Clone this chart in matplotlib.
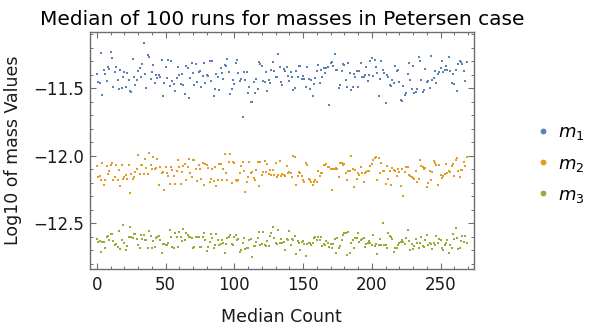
import numpy as np
import matplotlib

matplotlib.use("Agg")
import matplotlib.pyplot as plt  # noqa: E402
from matplotlib.lines import Line2D  # noqa: E402
from matplotlib.ticker import MultipleLocator  # noqa: E402

# medians, one value per median count (0..269)
m1 = [
    -11.391, -11.451, -11.458, -11.236, -11.547, -11.364, -11.391, -11.443, -11.342, -11.357,
    -11.231, -11.275, -11.493, -11.379, -11.342, -11.436, -11.502, -11.364, -11.495, -11.414,
    -11.379, -11.490, -11.386, -11.438, -11.517, -11.525, -11.283, -11.414, -11.475, -11.438,
    -11.372, -11.349, -11.414, -11.320, -11.164, -11.391, -11.495, -11.253, -11.265, -11.428,
    -11.379, -11.327, -11.458, -11.399, -11.421, -11.399, -11.414, -11.290, -11.559, -11.463,
    -11.342, -11.421, -11.290, -11.480, -11.295, -11.443, -11.465, -11.517, -11.421, -11.342,
    -11.399, -11.465, -11.391, -11.473, -11.540, -11.335, -11.347, -11.572, -11.421, -11.312,
    -11.384, -11.473, -11.320, -11.451, -11.379, -11.372, -11.488, -11.406, -11.310, -11.458,
    -11.401, -11.409, -11.295, -11.443, -11.295, -11.559, -11.502, -11.391, -11.414, -11.510,
    -11.347, -11.386, -11.428, -11.325, -11.332, -11.283, -11.377, -11.540, -11.502, -11.436,
    -11.465, -11.312, -11.290, -11.384, -11.443, -11.428, -11.710, -11.377, -11.436, -11.377,
    -11.532, -11.488, -11.599, -11.599, -11.451, -11.532, -11.431, -11.502, -11.302, -11.320,
    -11.332, -11.446, -11.456, -11.377, -11.517, -11.438, -11.463, -11.364, -11.302, -11.372,
    -11.414, -11.414, -11.246, -11.342, -11.451,
    -11.473, -11.354, -11.369, -11.340, -11.406, -11.443, -11.379, -11.414, -11.512, -11.495,
    -11.372, -11.414, -11.332, -11.332, -11.428, -11.409, -11.428, -11.493, -11.342, -11.428,
    -11.502, -11.436, -11.554, -11.468, -11.421, -11.369, -11.325, -11.458, -11.362, -11.414,
    -11.347, -11.384, -11.347, -11.340, -11.623, -11.310, -11.302, -11.332, -11.246, -11.362,
    -11.362, -11.495, -11.473, -11.369, -11.317, -11.325, -11.438, -11.488, -11.312, -11.384,
    -11.510, -11.488, -11.391, -11.414, -11.369, -11.488, -11.369, -11.312, -11.414, -11.414,
    -11.399, -11.342, -11.443, -11.399, -11.295, -11.275, -11.406, -11.288, -11.342, -11.384,
    -11.557, -11.428, -11.295, -11.362, -11.384, -11.606, -11.399, -11.416, -11.473, -11.480,
    -11.436, -11.458, -11.332, -11.369, -11.364, -11.451, -11.586, -11.594, -11.480, -11.547,
    -11.537, -11.391, -11.310, -11.438, -11.507, -11.332, -11.532, -11.525, -11.502, -11.265,
    -11.295, -11.438, -11.525, -11.512, -11.354, -11.451, -11.446, -11.495, -11.258, -11.438,
    -11.421, -11.369, -11.458, -11.391, -11.377, -11.349, -11.295, -11.377, -11.364, -11.332,
    -11.362, -11.265, -11.369, -11.458, -11.391, -11.470, -11.362, -11.517, -11.317, -11.295,
    -11.302, -11.317, -11.369, -11.443, -11.305,
]

m2 = [
    -12.079, -12.160, -12.148, -12.183, -12.052, -12.215, -12.178, -12.079, -12.138, -12.116,
    -12.072, -12.057, -12.178, -12.156, -12.072, -12.178, -12.104, -12.227, -12.072, -12.170,
    -12.156, -12.141, -12.175, -12.072, -12.279, -12.138, -12.170, -12.160, -12.123, -12.096,
    -11.998, -12.138, -12.072, -12.067, -12.138, -12.022, -12.089, -12.138, -11.978, -12.072,
    -12.096, -12.012, -12.101, -12.094, -12.027, -12.215, -12.081, -12.128, -12.123, -12.257,
    -12.081, -12.131, -12.151, -12.207, -12.081, -12.106, -12.148, -12.207, -12.116, -12.035,
    -12.081, -12.207, -12.123, -12.079, -12.064, -12.178, -12.081, -12.022, -12.131, -12.156,
    -12.032, -12.035, -12.101, -12.190, -12.072, -12.096, -12.175, -12.052, -12.220, -12.064,
    -12.072, -12.094, -12.198, -12.170, -12.096, -12.190, -12.086, -12.227, -12.178, -12.064,
    -12.059, -12.183, -12.096, -11.990, -12.128, -12.178, -12.049, -11.988, -12.202, -12.049,
    -12.057, -12.178, -12.185, -12.178, -12.131, -12.074, -12.047, -12.111, -12.269, -12.193,
    -12.156, -12.047, -12.131, -12.123, -12.165, -12.178, -12.109, -12.044, -12.222, -12.049,
    -12.141, -12.121, -12.037, -12.121, -12.059, -12.138, -12.109, -12.146, -12.109, -12.146,
    -12.057, -12.156, -12.146, -12.042, -12.153,
    -12.133, -12.146, -12.153, -12.079, -12.128, -12.121, -12.131, -12.160, -12.005, -12.010,
    -12.220, -12.153, -12.121, -12.131, -12.153, -12.183, -12.195, -12.057, -12.067, -12.175,
    -12.180, -12.195, -12.220, -12.198, -12.183, -12.198, -12.111, -12.153, -12.131, -12.131,
    -12.069, -12.072, -12.064, -12.084, -12.084, -12.096, -12.257, -12.096, -12.096, -12.091,
    -12.099, -12.156, -12.052, -12.054, -12.067, -12.059, -12.128, -12.183, -12.116, -12.111,
    -12.005, -12.101, -12.230, -12.109, -12.175, -12.128, -12.146, -12.084, -12.128, -12.195,
    -12.128, -12.123, -12.114, -12.116, -12.079, -12.064, -12.030, -12.017, -12.010, -12.183,
    -12.017, -12.128, -12.052, -12.111, -12.116, -12.207, -12.079, -12.170, -12.116, -12.215,
    -12.089, -12.104, -12.111, -12.148, -12.101, -12.123, -12.227, -12.099, -12.296, -12.119,
    -12.086, -12.081, -12.146, -12.153, -12.156, -12.163, -12.173, -12.116, -12.198, -12.173,
    -12.035, -12.074, -12.084, -12.099, -12.094, -12.235, -12.202, -12.116, -12.178, -12.123,
    -12.037, -12.054, -12.072, -12.220, -12.072, -12.146, -12.165, -12.153, -12.133, -12.059,
    -12.128, -12.116, -12.121, -12.079, -12.059, -12.153, -12.030, -12.020, -12.114, -12.160,
    -12.104, -12.104, -12.049, -12.079, -12.010,
]

m3 = [
    -12.614, -12.636, -12.628, -12.710, -12.638, -12.638, -12.680, -12.599, -12.594, -12.621,
    -12.581, -12.581, -12.631, -12.663, -12.651, -12.673, -12.554, -12.688, -12.623, -12.512,
    -12.643, -12.698, -12.670, -12.599, -12.530, -12.604, -12.611, -12.581, -12.581, -12.614,
    -12.660, -12.683, -12.586, -12.616, -12.586, -12.623, -12.626, -12.680, -12.557, -12.594,
    -12.683, -12.628, -12.673, -12.611, -12.599, -12.594, -12.626, -12.717, -12.651, -12.656,
    -12.663, -12.658, -12.648, -12.549, -12.599, -12.673, -12.680, -12.574, -12.604, -12.673,
    -12.562, -12.599, -12.628, -12.544, -12.623, -12.574, -12.586, -12.604, -12.601, -12.609,
    -12.680, -12.673, -12.604, -12.604, -12.599, -12.673, -12.678, -12.604, -12.569, -12.623,
    -12.702, -12.673, -12.638, -12.579, -12.611, -12.680, -12.658, -12.579, -12.623, -12.660,
    -12.653, -12.623, -12.648, -12.717, -12.653, -12.611, -12.599, -12.586, -12.653, -12.660,
    -12.599, -12.589, -12.623, -12.614, -12.712, -12.698, -12.648, -12.611, -12.688, -12.685,
    -12.685, -12.621, -12.619, -12.747, -12.665, -12.668, -12.641, -12.611, -12.562, -12.658,
    -12.653, -12.562, -12.660, -12.668, -12.631, -12.668, -12.594, -12.574, -12.525, -12.609,
    -12.648, -12.653, -12.549, -12.648, -12.619, -12.643, -12.636, -12.698,
    -12.619, -12.623, -12.554, -12.660, -12.619, -12.623, -12.594, -12.727, -12.628, -12.648,
    -12.698, -12.636, -12.628, -12.656, -12.742, -12.656, -12.643, -12.648, -12.660, -12.643,
    -12.611, -12.604, -12.623, -12.599, -12.623, -12.604, -12.668, -12.653, -12.663, -12.628,
    -12.648, -12.673, -12.653, -12.680, -12.656, -12.619, -12.717, -12.609, -12.680, -12.668,
    -12.623, -12.584, -12.574, -12.569, -12.735, -12.562, -12.720, -12.648, -12.623, -12.680,
    -12.606, -12.611, -12.572, -12.641, -12.623, -12.614, -12.611, -12.673, -12.653, -12.643,
    -12.631, -12.648, -12.663, -12.589, -12.668, -12.656, -12.725, -12.660, -12.619, -12.660,
    -12.500, -12.660, -12.660, -12.680, -12.574, -12.594, -12.601, -12.614, -12.715, -12.685,
    -12.683, -12.658, -12.648, -12.638, -12.626, -12.636, -12.653, -12.606, -12.552, -12.628,
    -12.700, -12.651, -12.690, -12.665, -12.614, -12.648, -12.680, -12.648, -12.599, -12.668,
    -12.673, -12.623, -12.589, -12.660, -12.648, -12.653, -12.693, -12.643, -12.660, -12.594,
    -12.648, -12.616, -12.623, -12.680, -12.698, -12.660, -12.648, -12.621, -12.717, -12.660,
    -12.685, -12.579, -12.619, -12.532, -12.606, -12.693, -12.685, -12.631, -12.594, -12.641,
    -12.594, -12.643,
]

series_labels = ["$m_1$", "$m_2$", "$m_3$"]
series_colors = ["#5e81b5", "#e19c24", "#8fb032"]
frame_color = "#6e6e6e"

fig = plt.figure(figsize=(5.92, 3.30), dpi=100)
ax = fig.add_axes([0.1512, 0.184, 0.6495, 0.720])

for values, color in zip([m1, m2, m3], series_colors):
    x = np.arange(len(values))
    ax.scatter(x, values, s=3.6, marker="s", color=color, linewidths=0)

ax.set_xlim(-5.38, 274.38)
ax.set_ylim(-12.841, -11.081)
ax.xaxis.set_major_locator(MultipleLocator(50))
ax.xaxis.set_minor_locator(MultipleLocator(10))
ax.yaxis.set_major_locator(MultipleLocator(0.5))
ax.yaxis.set_minor_locator(MultipleLocator(0.1))

for spine in ax.spines.values():
    spine.set_color(frame_color)
    spine.set_linewidth(1.0)

ax.tick_params(which="both", direction="in", top=True, right=True,
               color=frame_color, labelsize=12, labelcolor="#1a1a1a")
ax.tick_params(which="major", length=4.5, width=0.8)
ax.tick_params(which="minor", length=2.5, width=0.7)
ax.tick_params(axis="x", which="major", pad=5)
ax.tick_params(axis="y", which="major", pad=4)

ax.set_title("Median of 100 runs for masses in Petersen case", fontsize=14.5, pad=5)
ax.set_xlabel("Median Count", fontsize=12.5, labelpad=10, color="#1a1a1a")
ax.set_ylabel("Log10 of mass Values", fontsize=12.5, labelpad=8, color="#1a1a1a")

handles = [Line2D([], [], linestyle="none", marker="o", markersize=4.2,
                  markerfacecolor=c, markeredgewidth=0) for c in series_colors]
fig.legend(handles, series_labels, loc="center left", bbox_to_anchor=(0.905, 0.503),
           frameon=False, fontsize=13, handlelength=0.8, handletextpad=0.45,
           labelspacing=0.68, borderpad=0, borderaxespad=0)

fig.savefig("out.png", dpi=100)
